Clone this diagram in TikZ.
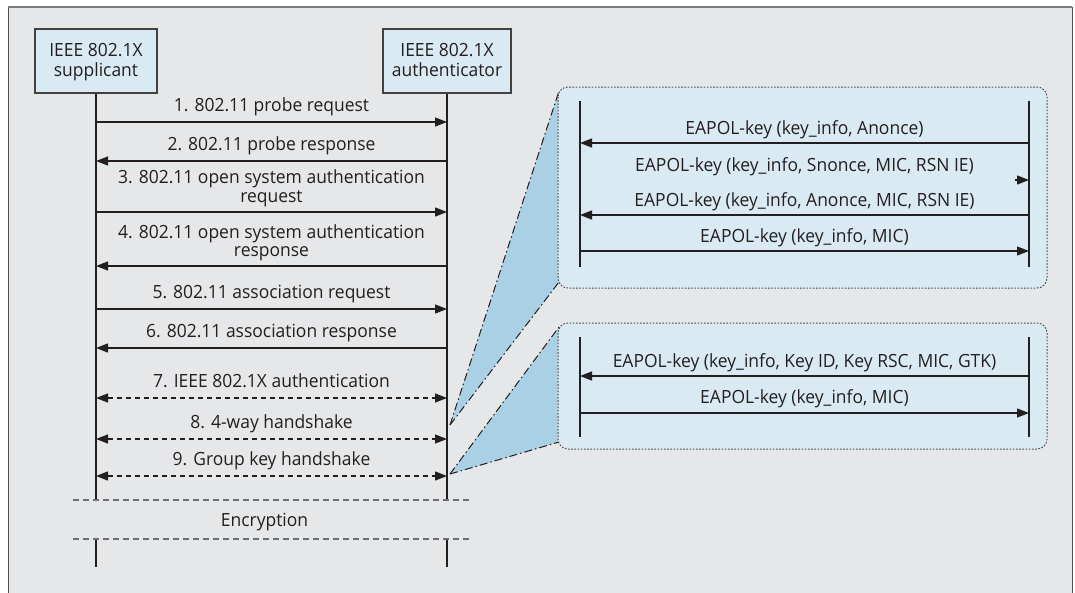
\documentclass[tikz,border=0pt]{standalone}
\usepackage{fontspec}
\setmainfont{Open Sans}[FakeStretch=0.96]
\usetikzlibrary{arrows.meta,calc}
\definecolor{bg}{HTML}{E6E7E8}
\definecolor{boxblue}{HTML}{DAEAF3}
\definecolor{wedgeblue}{HTML}{A9D0E5}
\definecolor{ink}{HTML}{231F20}
\definecolor{framegray}{HTML}{7A7B7D}
\definecolor{sepgray}{HTML}{6D6E70}
\newcommand{\seqmsg}[5]{%
  \coordinate (#1L) at (96,#2);
  \coordinate (#1R) at (447,#2);
  \draw[#3] (#1L) -- (#1R);
  \node[lbl] (#1T) at ($(#1L)!0.5!(#1R)+(0,-#4)$) {#5};}
\newcommand{\eapmsg}[6]{%
  \coordinate (#1L) at (#2,#3);
  \coordinate (#1R) at (1029,#3);
  \draw[#4] (#1L) -- (#1R);
  \node[lbl] (#1T) at (804.5,#3-#5) {#6};}
\newcommand{\actortext}[2]{\raisebox{-6pt}[0pt][0pt]{\begin{tabular}{@{}c@{}}#1\\#2\end{tabular}}}
\begin{document}
\begin{tikzpicture}[x=1pt,y=-1pt,
  every node/.style={font=\fontsize{18.2}{18.5}\selectfont, text=ink},
  lbl/.style={anchor=base, inner sep=0pt, align=center},
  actor/.style={draw=ink!85, line width=1.2pt, fill=boxblue, inner sep=2pt, minimum height=64pt},
  life/.style={draw=ink, line width=2.2pt},
  ilife/.style={draw=ink, line width=1.3pt},
  tip/.tip={Triangle[length=12pt,width=9pt]},
  toR/.style={draw=ink, line width=1.3pt, -tip},
  toL/.style={draw=ink, line width=1.3pt, tip-},
  both/.style={draw=ink, line width=1.3pt, tip-tip, dash pattern=on 5pt off 4pt},
  sep/.style={draw=sepgray, line width=1.2pt, dash pattern=on 5.5pt off 4.5pt},
  panel/.style={fill=boxblue, draw=ink!80, line width=1pt, dash pattern=on 1.6pt off 1.6pt, rounded corners=10pt},
  wedge/.style={fill=wedgeblue},
  wedgeline/.style={draw=ink, line width=1pt, dash pattern=on 8pt off 3pt on 1.5pt off 3pt}
]
\useasboundingbox (0,0) rectangle (1075,592);
\fill[white] (0,0) rectangle (1075,592);
% frame
\fill[bg] (8,7) rectangle (1072,600);
\draw[ink!80, line width=1pt] (8,600) -- (8,7);
\draw[ink!80, line width=1pt] (1072,600) -- (1072,7);
\draw[framegray, line width=2pt] (8,7) -- (1072,7);

% wedges
\coordinate (w1a) at (450,425);
\coordinate (w1t) at (559,91);
\coordinate (w1b) at (559,282);
\coordinate (w2a) at (450,474);
\coordinate (w2t) at (559,327);
\coordinate (w2b) at (559,442);
\fill[wedge] (w1a) -- (w1t) -- (w1b) -- cycle;
\fill[wedge] (w2a) -- (w2t) -- (w2b) -- cycle;
\draw[wedgeline] (w1a) -- (w1t);
\draw[wedgeline] (w1a) -- (w1b);
\draw[wedgeline] (w2a) -- (w2t);
\draw[wedgeline] (w2a) -- (w2b);

% panels
\draw[panel] (558,87) rectangle (1047,288);
\draw[panel] (558,323) rectangle (1047,449);
\coordinate (p1lt) at (580,101); \coordinate (p1lb) at (580,267);
\coordinate (p1rt) at (1029,101); \coordinate (p1rb) at (1029,267);
\coordinate (p2lt) at (580,337); \coordinate (p2lb) at (580,437);
\coordinate (p2rt) at (1029,337); \coordinate (p2rb) at (1029,437);
\draw[ilife] (p1lt) -- (p1lb);
\draw[ilife] (p1rt) -- (p1rb);
\draw[ilife] (p2lt) -- (p2lb);
\draw[ilife] (p2rt) -- (p2rb);

\eapmsg{ea}{580}{143}{toL}{8.5}{EAPOL-key (key\_info, Anonce)}
\eapmsg{eb}{1015}{180}{toR}{9}{EAPOL-key (key\_info, Snonce, MIC, RSN IE)}
\eapmsg{ec}{580}{215}{toL}{8.5}{EAPOL-key (key\_info, Anonce, MIC, RSN IE)}
\eapmsg{ed}{580}{251}{toR}{8.5}{EAPOL-key (key\_info, MIC)}
\eapmsg{ge}{580}{376}{toL}{8.7}{EAPOL-key (key\_info, Key ID, Key RSC, MIC, GTK)}
\eapmsg{gf}{580}{413}{toR}{10}{EAPOL-key (key\_info, MIC)}

% actors
\node[actor, minimum width=122pt] (sup) at (96,61) {\actortext{IEEE 802.1X}{supplicant}};
\node[actor, minimum width=128pt] (auth) at (447,61) {\actortext{IEEE 802.1X}{authenticator}};
\coordinate (supEnd) at (96,499);
\coordinate (authEnd) at (447,499);
\coordinate (supB1) at (96,539); \coordinate (supB2) at (96,567);
\coordinate (authB1) at (447,539); \coordinate (authB2) at (447,567);
\draw[life] (sup.south) -- (supEnd);
\draw[life] (auth.south) -- (authEnd);
\draw[life] (supB1) -- (supB2);
\draw[life] (authB1) -- (authB2);

% separators
\coordinate (s1L) at (73,500); \coordinate (s1R) at (471,500);
\coordinate (s2L) at (73,539); \coordinate (s2R) at (471,539);
\draw[sep] (s1L) -- (s1R);
\draw[sep] (s2L) -- (s2R);
\node[lbl] (enc) at (264.5,526.7) {Encryption};

% messages
\seqmsg{m1}{122}{toR}{11}{1. 802.11 probe request}
\seqmsg{m2}{161}{toL}{11}{2. 802.11 probe response}
\seqmsg{m3}{212}{toR}{10}{3. 802.11 open system authentication\\request}
\seqmsg{m4}{266}{toL}{9.5}{4. 802.11 open system authentication\\response}
\seqmsg{m5}{309}{toR}{11}{5. 802.11 association request}
\seqmsg{m6}{348}{toL}{11}{6. 802.11 association response}
\seqmsg{m7}{398}{both}{11}{7. IEEE 802.1X authentication}
\seqmsg{m8}{439}{both}{11}{8. 4-way handshake}
\seqmsg{m9}{476}{both}{10.5}{9. Group key handshake}
\end{tikzpicture}
\end{document}
